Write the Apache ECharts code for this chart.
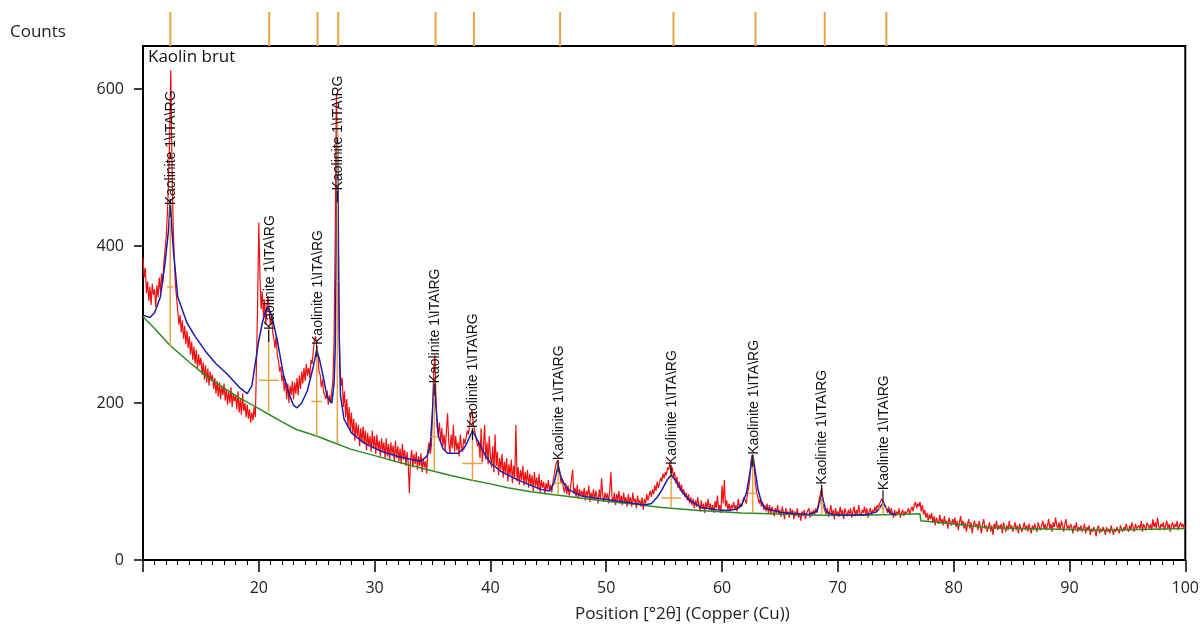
<!DOCTYPE html>
<html>
<head>
<meta charset="utf-8">
<script src="https://cdn.jsdelivr.net/npm/echarts@6/dist/echarts.min.js"></script>
<style>
  html, body { margin: 0; padding: 0; background: #fff; }
  #chart { width: 1202px; height: 626px; }
</style>
</head>
<body>
<div id="chart"></div>
<script>
// observed scan, 10.0 .. 100.0 °2θ, one row per degree (step 0.1)
const scanStart = 10
const scanStep = 0.1
const observedCounts = [
  385, 360, 372, 340, 355, 330, 348, 325, 352, 338,
  345, 322, 350, 335, 360, 342, 365, 352, 378, 395,
  410, 440, 480, 540, 624, 505, 430, 385, 350, 335,
  318, 300, 312, 290, 305, 282, 298, 275, 292, 270,
  285, 262, 278, 255, 272, 250, 268, 243, 262, 248,
  258, 236, 252, 230, 248, 226, 244, 222, 240, 228,
  236, 218, 232, 212, 228, 208, 226, 205, 222, 210,
  225, 203, 218, 198, 215, 200, 220, 195, 212, 202,
  210, 192, 215, 188, 205, 185, 212, 190, 200, 182,
  198, 180, 192, 175, 188, 178, 195, 182, 250, 330,
  430, 360, 320, 342, 310, 332, 300, 322, 336, 318,
  300, 312, 290, 282, 270, 286, 260, 254, 240, 246,
  228, 236, 215, 230, 205, 225, 200, 222, 210, 228,
  205, 226, 212, 232, 210, 235, 218, 240, 225, 245,
  228, 250, 235, 245, 232, 255, 250, 265, 280, 285,
  272, 262, 240, 236, 220, 230, 214, 210, 205, 216,
  198, 210, 200, 215, 230, 280, 420, 595, 520, 330,
  250, 222, 232, 195, 215, 182, 205, 170, 195, 165,
  188, 160, 180, 152, 175, 158, 172, 145, 168, 150,
  170, 148, 165, 140, 162, 145, 158, 138, 165, 142,
  158, 135, 160, 140, 152, 132, 155, 138, 150, 130,
  155, 132, 148, 128, 150, 135, 146, 125, 152, 130,
  145, 126, 142, 122, 148, 128, 140, 120, 138, 124,
  85, 128, 140, 118, 135, 122, 138, 115, 132, 120,
  136, 112, 130, 118, 126, 110, 140, 150, 135, 145,
  190, 240, 261, 205, 170, 160, 175, 150, 168, 145,
  160, 140, 165, 187, 150, 135, 160, 142, 172, 138,
  158, 140, 150, 132, 160, 145, 138, 155, 148, 150,
  165, 160, 172, 185, 191, 175, 168, 160, 152, 145,
  150, 130, 168, 125, 145, 172, 128, 150, 122, 158,
  132, 118, 145, 112, 160, 120, 138, 108, 130, 115,
  135, 105, 125, 110, 130, 100, 122, 108, 128, 98,
  120, 105, 172, 100, 118, 96, 115, 102, 120, 95,
  112, 98, 115, 92, 110, 95, 108, 88, 112, 94,
  105, 90, 110, 86, 102, 92, 100, 84, 98, 90,
  102, 88, 96, 86, 100, 108, 118, 124, 127, 115,
  110, 98, 104, 92, 86, 98, 84, 95, 82, 90,
  88, 115, 84, 92, 80, 96, 78, 90, 82, 88,
  80, 92, 76, 88, 82, 95, 74, 86, 78, 90,
  76, 88, 80, 72, 90, 78, 104, 82, 74, 86,
  78, 85, 72, 88, 112, 80, 74, 86, 70, 84,
  76, 88, 72, 82, 70, 86, 74, 80, 68, 84,
  72, 80, 68, 86, 74, 78, 66, 82, 72, 76,
  68, 80, 64, 78, 72, 84, 76, 82, 88, 80,
  90, 84, 95, 88, 100, 92, 98, 105, 100, 110,
  104, 112, 108, 118, 115, 125, 110, 118, 105, 112,
  98, 106, 92, 100, 88, 96, 84, 90, 80, 86,
  76, 84, 72, 80, 70, 78, 66, 76, 68, 80,
  70, 62, 76, 65, 72, 60, 74, 66, 78, 64,
  72, 62, 70, 60, 75, 66, 82, 64, 70, 60,
  95, 72, 102, 68, 76, 64, 72, 62, 70, 66,
  74, 64, 70, 62, 78, 66, 72, 68, 76, 80,
  78, 72, 85, 92, 105, 125, 134, 130, 115, 95,
  85, 80, 72, 78, 68, 74, 64, 70, 62, 72,
  60, 70, 58, 68, 62, 56, 66, 60, 70, 58,
  64, 55, 68, 60, 52, 66, 58, 62, 54, 66,
  58, 64, 52, 62, 56, 66, 54, 60, 50, 62,
  56, 64, 52, 60, 58, 66, 54, 62, 56, 64,
  58, 66, 60, 70, 78, 85, 92, 80, 66, 62,
  58, 66, 55, 62, 70, 56, 64, 52, 66, 58,
  62, 55, 68, 58, 64, 52, 66, 60, 56, 64,
  58, 66, 54, 62, 68, 56, 64, 58, 70, 60,
  56, 64, 60, 68, 58, 66, 54, 62, 66, 58,
  64, 60, 68, 62, 70, 66, 72, 75, 78, 80,
  72, 68, 65, 60, 68, 58, 66, 60, 54, 64,
  56, 62, 58, 66, 54, 60, 64, 56, 62, 58,
  60, 66, 58, 64, 68, 62, 70, 74, 66, 72,
  68, 74, 62, 70, 58, 64, 54, 60, 50, 58,
  52, 60, 48, 56, 44, 54, 50, 46, 58, 48,
  52, 44, 56, 46, 50, 40, 54, 48, 44, 52,
  46, 54, 42, 50, 38, 48, 56, 44, 50, 40,
  48, 36, 46, 52, 40, 48, 34, 44, 50, 42,
  46, 38, 50, 42, 34, 46, 52, 40, 44, 36,
  42, 48, 36, 44, 32, 46, 40, 50, 38, 44,
  40, 46, 34, 48, 42, 36, 44, 38, 50, 40,
  44, 36, 42, 48, 38, 44, 34, 46, 40, 36,
  42, 48, 38, 44, 36, 46, 40, 34, 44, 38,
  46, 40, 36, 48, 42, 38, 44, 50, 40, 46,
  38, 44, 52, 40, 46, 36, 48, 42, 54, 44,
  40, 48, 38, 50, 44, 36, 46, 52, 40, 44,
  38, 46, 42, 34, 44, 40, 48, 36, 42, 38,
  44, 36, 40, 46, 34, 42, 38, 44, 32, 40,
  36, 42, 38, 30, 40, 44, 34, 40, 36, 42,
  38, 32, 42, 36, 40, 34, 44, 38, 32, 40,
  36, 42, 38, 34, 44, 40, 36, 42, 38, 46,
  40, 36, 44, 38, 48, 42, 36, 46, 40, 38,
  44, 40, 50, 36, 46, 42, 38, 48, 44, 40,
  46, 38, 52, 42, 48, 40, 54, 44, 38, 46,
  42, 48, 38, 44, 50, 40, 46, 36, 44, 48,
  40, 46, 42, 50, 38, 44, 48, 42, 46, 40,
  44
]

// calculated profile (blue)
const calcAngles = [
  10.0, 10.6, 11.0, 11.5, 11.9, 12.2, 12.35, 12.5, 12.6, 13.0, 13.8, 14.5, 15.5, 16.3, 17.2,
  18.4, 19.0, 19.4, 19.7, 20.0, 20.3, 20.6, 20.85, 21.1, 21.6, 22.1, 22.6, 23.0, 23.3, 23.7,
  24.2, 24.7, 25.0, 25.25, 25.5, 25.9, 26.3, 26.5, 26.6, 26.7, 26.78, 26.87, 26.95, 27.05, 27.35,
  28.0, 29.1, 30.5, 32.0, 33.5, 34.0, 34.5, 34.8, 35.0, 35.15, 35.3, 35.5, 35.9, 36.3, 37.2,
  37.7, 38.0, 38.45, 38.8, 39.2, 39.6, 40.05, 41.0, 42.1, 43.3, 44.4, 45.1, 45.5, 45.85, 46.1,
  46.4, 46.7, 47.8, 49.0, 50.5, 52.0, 53.3, 53.9, 54.4, 54.8, 55.3, 55.6, 55.9, 56.5, 57.1,
  58.2, 59.5, 60.5, 61.3, 61.7, 62.1, 62.4, 62.65, 62.9, 63.1, 63.4, 63.7, 65.0, 66.3, 67.5,
  68.2, 68.45, 68.6, 68.75, 69.0, 69.5, 71.0, 72.5, 73.3, 73.6, 73.9, 74.2, 74.5, 75.0
]
const calcCounts = [
  312, 309, 315, 335, 378, 420, 460, 420, 399, 335, 302, 285, 264, 250, 238,
  219, 212, 222, 251, 280, 302, 318, 321, 312, 280, 238, 212, 197, 194, 200,
  216, 246, 268, 255, 238, 208, 200, 225, 270, 420, 557, 420, 280, 210, 180,
  162, 149, 139, 132, 127, 126, 132, 145, 190, 232, 195, 158, 142, 136, 136,
  142, 150, 165, 155, 144, 132, 123, 112, 104, 96, 90, 88, 98, 121, 105,
  96, 90, 82, 79, 76, 73, 70, 72, 80, 89, 103, 108, 103, 88, 77,
  67, 64, 63, 65, 70, 85, 110, 134, 110, 90, 74, 66, 61, 59, 58,
  62, 75, 84, 75, 62, 58, 57, 58, 61, 66, 73, 66, 60, 58
]

// fitted background (green)
const bgAngles = [
  10, 11, 12.3, 14, 15.5, 17, 18.4, 20, 20.7, 22, 23.3, 25, 26.2, 28, 30, 32, 34.85, 36.5,
  38.3, 40, 41.5, 43.5, 45.5, 47.8, 50, 52.5, 54.8, 58, 61.7, 65, 68.6, 72, 75, 77.1,
  77.15, 80, 83, 86, 90, 93, 96, 100
]
const bgCounts = [
  310, 295, 274, 252, 234, 219, 206, 193, 187, 176, 166, 158, 151, 141, 133, 125, 114, 108,
  102, 97, 92, 87, 83, 79, 75, 71, 67, 63, 60, 58.5, 57, 57, 58, 59,
  50, 46, 41, 40, 39, 38, 39, 40
]

// identified peaks
const peakLabel = 'Kaolinite 1\\ITA\\RG'
const peakPos = [12.35, 20.85, 25.0, 26.78, 35.15, 38.45, 45.85, 55.6, 62.65, 68.6, 73.9]
const peakTop = [455, 300, 270, 557, 232, 165, 121, 108, 134, 84, 73]
const peakHalf = [348, 229, 202, 355, 157, 123, 98, 79, 85, 72, 66]
const peakFwhm = [0.55, 1.73, 0.95, 0.2, 0.58, 1.8, 0.6, 1.7, 0.72, 0.4, 0.9]
const peakBg = [272, 189, 157, 149, 114, 101, 83, 67, 61, 57, 58]
const labelY = [452, 293, 274, 471, 225, 168, 127, 121, 134, 96, 89]

const yTicks = [0, 200, 400, 600]

const red = '#F01010'
const blue = '#1C1CA8'
const green = '#2E8B22'
const orange = '#E9A347'

const observed = observedCounts.map((val, ii) => [+(scanStart + ii * scanStep).toFixed(1), val])
const calc = calcAngles.map((ang, ii) => [ang, calcCounts[ii]])
const background = bgAngles.map((ang, ii) => [ang, bgCounts[ii]])
const peaks = peakPos.map((pos, ii) => [pos, peakTop[ii], peakHalf[ii], peakFwhm[ii], peakBg[ii], labelY[ii]])

function renderPeak(params, api) {
  const pos = api.value(0)
  const fw = api.value(3)
  const base = api.coord([pos, api.value(4)])
  const top = api.coord([pos, api.value(1)])
  const hl = api.coord([pos - fw / 2, api.value(2)])
  const hr = api.coord([pos + fw / 2, api.value(2)])
  const lab = api.coord([pos, api.value(5)])
  const orangeLine = { stroke: orange, lineWidth: 1.5 }
  return {
    type: 'group',
    children: [
      { type: 'line', shape: { x1: base[0], y1: base[1], x2: top[0], y2: top[1] }, style: orangeLine },
      { type: 'line', shape: { x1: hl[0], y1: hl[1], x2: hr[0], y2: hr[1] }, style: orangeLine },
      { type: 'line', shape: { x1: lab[0], y1: lab[1], x2: lab[0], y2: lab[1] + 12 }, style: { stroke: '#111', lineWidth: 1.2 } },
      {
        type: 'text', x: lab[0] + 1, y: lab[1], rotation: Math.PI / 2,
        style: { text: peakLabel, fill: '#111', font: '14px "Liberation Sans", Arial, sans-serif', align: 'left', verticalAlign: 'middle' },
      },
    ],
  }
}

const chart = echarts.init(document.getElementById('chart'))
const fontFam = '"Open Sans", sans-serif'

chart.setOption({
  animation: false,
  backgroundColor: '#fff',
  textStyle: { fontFamily: fontFam },
  grid: [
    { left: 143, right: 12, top: 46, bottom: 66, show: true, borderColor: '#000', borderWidth: 2, backgroundColor: 'transparent' },
    { left: 143, right: 12, top: 12, height: 34 },
  ],
  graphic: [
    { type: 'text', left: 10, top: 24, style: { text: 'Counts', font: '17px ' + fontFam, fill: '#222' } },
    { type: 'text', left: 148, top: 49, style: { text: 'Kaolin brut', font: '17px ' + fontFam, fill: '#111' } },
    { type: 'text', left: 575, top: 606, style: { text: 'Position [°2θ] (Copper (Cu))', font: '17px ' + fontFam, fill: '#222' } },
  ],
  xAxis: [
    {
      type: 'value', gridIndex: 0, min: 10, max: 100, interval: 10,
      axisLine: { lineStyle: { color: '#000', width: 2 } },
      axisTick: { inside: false, length: 12, lineStyle: { color: '#000', width: 1.5 } },
      minorTick: { show: true, splitNumber: 10, length: 5, lineStyle: { color: '#000', width: 1 } },
      axisLabel: { showMinLabel: false, margin: 20, fontSize: 16, color: '#222', fontFamily: fontFam },
      splitLine: { show: false },
    },
    {
      type: 'value', gridIndex: 1, min: 10, max: 100, show: false,
    },
  ],
  yAxis: [
    {
      type: 'value', gridIndex: 0, min: 0, max: 655, interval: 200,
      axisLine: { show: true, lineStyle: { color: '#000', width: 2 } },
      axisTick: { show: true, length: 9, customValues: yTicks, lineStyle: { color: '#000', width: 1.5 } },
      axisLabel: { margin: 19, fontSize: 16, color: '#222', fontFamily: fontFam, customValues: yTicks },
      splitLine: { show: false },
    },
    {
      type: 'value', gridIndex: 1, min: 0, max: 1, show: false,
    },
  ],
  series: [
    {
      name: 'Observed', type: 'line', data: observed, showSymbol: false, sampling: 'none',
      lineStyle: { color: red, width: 1.2 }, z: 2,
    },
    {
      name: 'Background', type: 'line', data: background, showSymbol: false,
      lineStyle: { color: green, width: 1.5 }, z: 3,
    },
    {
      name: 'Calculated', type: 'line', data: calc, showSymbol: false,
      lineStyle: { color: blue, width: 1.5 }, z: 4,
    },
    {
      name: 'Peaks', type: 'custom', data: peaks, renderItem: renderPeak,
      encode: { x: 0, y: 1 }, clip: false, z: 5,
    },
    {
      name: 'Pattern', type: 'bar', xAxisIndex: 1, yAxisIndex: 1,
      data: peakPos.map((pos) => [pos, 1]), barWidth: 2,
      itemStyle: { color: orange },
    },
  ],
})
</script>
</body>
</html>
